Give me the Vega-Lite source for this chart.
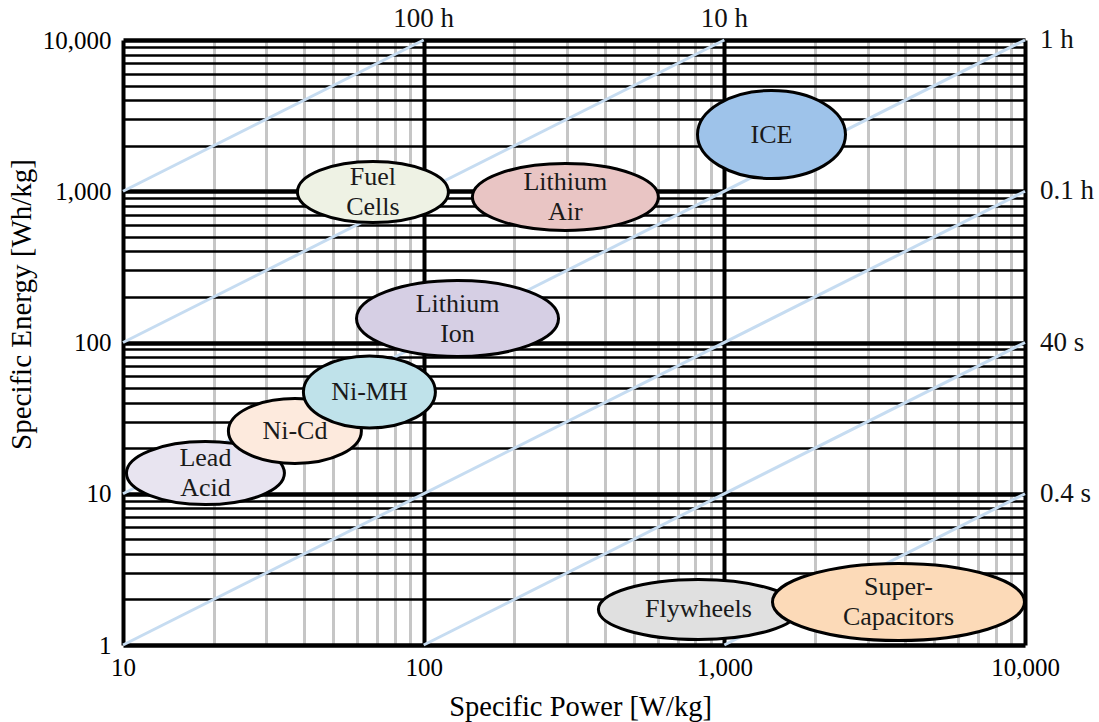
{
  "$schema": "https://vega.github.io/schema/vega-lite/v6.json",
  "width": 902,
  "height": 605,
  "autosize": {"type": "none"},
  "padding": {"left": 123, "top": 40, "right": 74, "bottom": 77},
  "background": "white",
  "config": {
    "view": {"stroke": null},
    "font": "Liberation Serif",
    "axis": {"labelFont": "Liberation Serif", "titleFont": "Liberation Serif"}
  },
  "datasets": {
    "tech": [
      {"name": "Lead Acid", "label": "Lead\nAcid", "x": 18.8, "y": 13.7},
      {"name": "Ni-Cd", "label": "Ni-Cd", "x": 37.3, "y": 26.0},
      {"name": "Ni-MH", "label": "Ni-MH", "x": 66.0, "y": 47.1},
      {"name": "Lithium Ion", "label": "Lithium\nIon", "x": 129.6, "y": 144},
      {"name": "Fuel Cells", "label": "Fuel\nCells", "x": 67.8, "y": 988},
      {"name": "Lithium Air", "label": "Lithium\nAir", "x": 296, "y": 916},
      {"name": "ICE", "label": "ICE", "x": 1435, "y": 2371},
      {"name": "Flywheels", "label": "Flywheels", "x": 820, "y": 1.717},
      {"name": "Super-Capacitors", "label": "Super-\nCapacitors", "x": 3795, "y": 1.924}
    ],
    "lines": [
      {"duration": "100 h", "x": 10, "y": 1000},
      {"duration": "100 h", "x": 100, "y": 10000},
      {"duration": "10 h", "x": 10, "y": 100},
      {"duration": "10 h", "x": 1000, "y": 10000},
      {"duration": "1 h", "x": 10, "y": 10},
      {"duration": "1 h", "x": 10000, "y": 10000},
      {"duration": "0.1 h", "x": 10, "y": 1},
      {"duration": "0.1 h", "x": 10000, "y": 1000},
      {"duration": "40 s", "x": 100, "y": 1},
      {"duration": "40 s", "x": 10000, "y": 100},
      {"duration": "0.4 s", "x": 1000, "y": 1},
      {"duration": "0.4 s", "x": 10000, "y": 10}
    ],
    "timelabels": [
      {"label": "100 h", "side": "top", "x": 100, "y": 10000},
      {"label": "10 h", "side": "top", "x": 1000, "y": 10000},
      {"label": "1 h", "side": "right", "x": 10000, "y": 10000},
      {"label": "0.1 h", "side": "right", "x": 10000, "y": 1000},
      {"label": "40 s", "side": "right", "x": 10000, "y": 100},
      {"label": "0.4 s", "side": "right", "x": 10000, "y": 10}
    ]
  },
  "encoding": {
    "x": {
      "field": "x",
      "type": "quantitative",
      "scale": {"type": "log", "domain": [10, 10000], "nice": false},
      "axis": {
        "values": [10, 20, 30, 40, 50, 60, 70, 80, 90, 100, 200, 300, 400, 500, 600, 700, 800, 900, 1000, 2000, 3000, 4000, 5000, 6000, 7000, 8000, 9000, 10000],
        "title": "Specific Power [W/kg]",
        "titleFontSize": 28.5,
        "titleFontWeight": "normal",
        "titleColor": "black",
        "titlePadding": 12,
        "titleX": 457,
        "labelExpr": "indexof([10,100,1000,10000], datum.value) >= 0 ? format(datum.value, ',') : ''",
        "labelFontSize": 25,
        "labelColor": "black",
        "labelPadding": 10,
        "labelOverlap": false,
        "labelFlush": false,
        "labelBound": false,
        "ticks": false,
        "domain": false,
        "grid": true,
        "gridOpacity": 1,
        "gridColor": {"condition": {"test": "indexof([10,100,1000,10000], datum.value) >= 0", "value": "black"}, "value": "#c6c6c6"},
        "gridWidth": {"condition": {"test": "indexof([10,100,1000,10000], datum.value) >= 0", "value": 4}, "value": 3}
      }
    },
    "y": {
      "field": "y",
      "type": "quantitative",
      "scale": {"type": "log", "domain": [1, 10000], "nice": false},
      "axis": {
        "values": [1, 2, 3, 4, 5, 6, 7, 8, 9, 10, 20, 30, 40, 50, 60, 70, 80, 90, 100, 200, 300, 400, 500, 600, 700, 800, 900, 1000, 2000, 3000, 4000, 5000, 6000, 7000, 8000, 9000, 10000],
        "title": "Specific Energy [Wh/kg]",
        "titleFontSize": 29,
        "titleFontWeight": "normal",
        "titleColor": "black",
        "titlePadding": 6,
        "titleY": 264,
        "labelExpr": "indexof([1,10,100,1000,10000], datum.value) >= 0 ? format(datum.value, ',') : ''",
        "labelFontSize": 25,
        "labelColor": "black",
        "labelPadding": 12,
        "labelOverlap": false,
        "labelFlush": false,
        "labelBound": false,
        "ticks": false,
        "domain": false,
        "grid": true,
        "gridOpacity": 1,
        "gridColor": "black",
        "gridWidth": {"condition": {"test": "indexof([1,10,100,1000,10000], datum.value) >= 0", "value": 4.5}, "value": 2.5}
      }
    }
  },
  "layer": [
    {
      "data": {"name": "lines"},
      "mark": {"type": "line", "color": "#c6dcf1", "strokeWidth": 3},
      "encoding": {"detail": {"field": "duration", "type": "nominal"}}
    },
    {
      "data": {"name": "tech"},
      "mark": {"type": "point", "filled": true, "size": 400, "stroke": "black", "strokeWidth": 3, "opacity": 1},
      "encoding": {
        "shape": {
          "field": "name",
          "type": "nominal",
          "legend": null,
          "scale": {
            "domain": ["Lead Acid", "Ni-Cd", "Ni-MH", "Lithium Ion", "Fuel Cells", "Lithium Air", "ICE", "Flywheels", "Super-Capacitors"],
            "range": [
              "M-7.9,0C-7.9,-1.74,-4.363,-3.15,0,-3.15C4.363,-3.15,7.9,-1.74,7.9,0C7.9,1.74,4.363,3.15,0,3.15C-4.363,3.15,-7.9,1.74,-7.9,0Z",
              "M-6.65,0C-6.65,-1.795,-3.673,-3.25,0,-3.25C3.673,-3.25,6.65,-1.795,6.65,0C6.65,1.795,3.673,3.25,0,3.25C-3.673,3.25,-6.65,1.795,-6.65,0Z",
              "M-6.6,0C-6.6,-1.988,-3.645,-3.6,0,-3.6C3.645,-3.6,6.6,-1.988,6.6,0C6.6,1.988,3.645,3.6,0,3.6C-3.645,3.6,-6.6,1.988,-6.6,0Z",
              "M-10.1,0C-10.1,-2.099,-5.578,-3.8,0,-3.8C5.578,-3.8,10.1,-2.099,10.1,0C10.1,2.099,5.578,3.8,0,3.8C-5.578,3.8,-10.1,2.099,-10.1,0Z",
              "M-7.55,0C-7.55,-1.685,-4.17,-3.05,0,-3.05C4.17,-3.05,7.55,-1.685,7.55,0C7.55,1.685,4.17,3.05,0,3.05C-4.17,3.05,-7.55,1.685,-7.55,0Z",
              "M-9.3,0C-9.3,-1.85,-5.136,-3.35,0,-3.35C5.136,-3.35,9.3,-1.85,9.3,0C9.3,1.85,5.136,3.35,0,3.35C-5.136,3.35,-9.3,1.85,-9.3,0Z",
              "M-7.4,0C-7.4,-2.43,-4.087,-4.4,0,-4.4C4.087,-4.4,7.4,-2.43,7.4,0C7.4,2.43,4.087,4.4,0,4.4C-4.087,4.4,-7.4,2.43,-7.4,0Z",
              "M-10,0C-10,-1.657,-5.523,-3,0,-3C5.523,-3,10,-1.657,10,0C10,1.657,5.523,3,0,3C-5.523,3,-10,1.657,-10,0Z",
              "M-12.6,0C-12.6,-2.126,-6.959,-3.85,0,-3.85C6.959,-3.85,12.6,-2.126,12.6,0C12.6,2.126,6.959,3.85,0,3.85C-6.959,3.85,-12.6,2.126,-12.6,0Z"
            ]
          }
        },
        "fill": {
          "field": "name",
          "type": "nominal",
          "legend": null,
          "scale": {
            "domain": ["Lead Acid", "Ni-Cd", "Ni-MH", "Lithium Ion", "Fuel Cells", "Lithium Air", "ICE", "Flywheels", "Super-Capacitors"],
            "range": ["#e8e4f0", "#fdeadd", "#bfe2ea", "#d6cfe4", "#eef2e4", "#e9c5c4", "#9ec3ea", "#e0e0e0", "#fcdab8"]
          }
        }
      }
    },
    {
      "data": {"name": "tech"},
      "transform": [{"filter": "indexof(datum.label, '\\n') < 0"}],
      "mark": {"type": "text", "font": "Liberation Serif", "fontSize": 26, "color": "#1a1a1a", "baseline": "middle", "align": "center"},
      "encoding": {"text": {"field": "label", "type": "nominal"}}
    },
    {
      "data": {"name": "tech"},
      "transform": [{"filter": "indexof(datum.label, '\\n') >= 0"}],
      "mark": {"type": "text", "font": "Liberation Serif", "fontSize": 26, "lineBreak": "\n", "lineHeight": 30, "color": "#1a1a1a", "baseline": "middle", "align": "center", "dy": -15},
      "encoding": {"text": {"field": "label", "type": "nominal"}}
    },
    {
      "data": {"name": "timelabels"},
      "transform": [{"filter": "datum.side == 'top'"}],
      "mark": {"type": "text", "font": "Liberation Serif", "fontSize": 27, "color": "#111111", "baseline": "alphabetic", "align": "center", "dy": -13},
      "encoding": {"text": {"field": "label", "type": "nominal"}}
    },
    {
      "data": {"name": "timelabels"},
      "transform": [{"filter": "datum.side == 'right'"}],
      "mark": {"type": "text", "font": "Liberation Serif", "fontSize": 27, "color": "#111111", "baseline": "middle", "align": "left", "dx": 15},
      "encoding": {"text": {"field": "label", "type": "nominal"}}
    }
  ]
}
